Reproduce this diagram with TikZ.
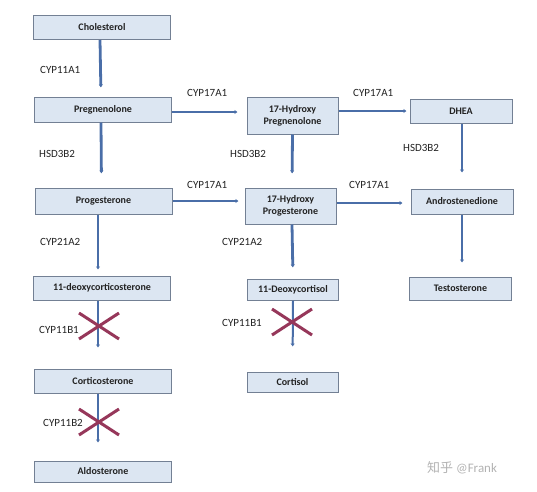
\documentclass[tikz,border=0pt]{standalone}
\usepackage{fontspec}
\setmainfont{Carlito}
\newfontfamily\cjkfont{Noto Sans CJK SC}
\usepackage{tikz}
\usetikzlibrary{arrows.meta,positioning}
\definecolor{boxfill}{RGB}{220,230,242}
\definecolor{boxline}{RGB}{115,128,148}
\definecolor{flowblue}{RGB}{74,110,168}
\definecolor{crossred}{RGB}{150,55,90}
\definecolor{inktext}{RGB}{34,34,34}

\begin{document}
\begin{tikzpicture}[x=1pt,y=-1pt,
    mol/.style={draw=boxline,fill=boxfill,line width=1pt,minimum height=24pt,inner sep=0pt,
      align=center,text=inktext,font=\bfseries\fontsize{10}{12}\selectfont},
    wide/.style={mol,minimum width=137pt},
    mid/.style={mol,minimum width=91pt},
    side/.style={mol,minimum width=102pt},
    flow/.style={draw=flowblue,line width=2.8pt,-{Latex[length=3pt,width=4.5pt]},shorten >=9pt},
    thin/.style={flow,line width=2pt},
    enz/.style={anchor=west,inner sep=0pt,text=inktext,font=\fontsize{11}{13}\selectfont},
    block/.style={draw=crossred,line width=3pt}]
    \useasboundingbox (0,0) rectangle (537,491);
    % first column
    \node[wide] (chol) at (102,27.5) {Cholesterol};
    \node[wide,minimum height=25pt] (preg) at (103,109.5) {Pregnenolone};
    \node[wide,minimum height=26pt] (prog) at (103.5,201) {Progesterone};
    \node[wide] (doc) at (102,288) {11-deoxycorticosterone};
    \node[wide] (cortico) at (103,381) {Corticosterone};
    \node[wide,minimum height=21pt] (aldo) at (103,471.5) {Aldosterone};
    % second column
    \node[mid,minimum height=37pt] (ohpreg) at (292.5,115.5) {17-Hydroxy\\Pregnenolone};
    \node[mid,minimum height=36pt] (ohprog) at (290.5,206) {17-Hydroxy\\Progesterone};
    \node[mid,minimum height=21pt] (dcort) at (293,289.5) {11-Deoxycortisol};
    \node[mid,minimum height=20pt] (cortisol) at (292.5,382) {Cortisol};
    % third column
    \node[side] (dhea) at (461,111) {DHEA};
    \node[side,minimum height=25pt] (andro) at (462,201.5) {Androstenedione};
    \node[side,minimum height=23pt] (testo) at (460.5,288.5) {Testosterone};

    % vertical steps
    \draw[flow] ([xshift=-2pt]chol.south) -- ([xshift=-2pt]preg.north);
    \draw[flow,shorten >=14pt] ([xshift=-2pt]preg.south) -- ([xshift=-2pt]prog.north);
    \draw[flow,shorten >=6pt] ([xshift=-5.5pt]prog.south) -- ([xshift=-4pt]doc.north);
    \draw[thin,shorten >=21pt] ([xshift=-4pt]doc.south) -- ([xshift=-5pt]cortico.north);
    \draw[thin,shorten >=18pt] ([xshift=-5pt]cortico.south) -- ([xshift=-5pt]aldo.north);
    \draw[flow,shorten >=14pt] (ohpreg.south) -- ([xshift=1.5pt]ohprog.north);
    \draw[flow,shorten >=11pt] ([xshift=1.5pt]ohprog.south) -- (dcort.north);
    \draw[thin,shorten >=25pt] (dcort.south) -- (cortisol.north);
    \draw[flow,shorten >=16pt] ([xshift=1pt]dhea.south) -- (andro.north);
    \draw[flow,shorten >=14pt] (andro.south) -- ([xshift=1.5pt]testo.north);

    % horizontal steps
    \draw[flow] ([yshift=-2.5pt]preg.east) -- ([yshift=-2.5pt]preg.east -| ohpreg.west);
    \draw[flow,shorten >=3pt] (ohpreg.east |- dhea.west) -- (dhea.west);
    \draw[flow,shorten >=6pt] (prog.east) -- (prog.east -| ohprog.west);
    \draw[flow,shorten >=8pt] ([yshift=-1.5pt]ohprog.east |- andro.west) -- ([yshift=-1.5pt]andro.west);

    % enzymes
    \node[enz] (e1) at (40,70) {CYP11A1};
    \node[enz] (e2) at (187,93) {CYP17A1};
    \node[enz] (e3) at (353,93) {CYP17A1};
    \node[enz] (e4) at (39,154) {HSD3B2};
    \node[enz] (e5) at (230,154) {HSD3B2};
    \node[enz] (e6) at (403,148) {HSD3B2};
    \node[enz] (e7) at (187,185) {CYP17A1};
    \node[enz] (e8) at (349,185) {CYP17A1};
    \node[enz] (e9) at (40,242) {CYP21A2};
    \node[enz] (e10) at (222,242) {CYP21A2};
    \node[enz] (e11) at (39,330) {CYP11B1};
    \node[enz] (e12) at (222,323) {CYP11B1};
    \node[enz] (e13) at (43,423) {CYP11B2};

    % blocked steps
    \coordinate (xa) at (99,326);
    \coordinate (xb) at (99,422);
    \coordinate (xc) at (292,322);
    \foreach \c in {xa,xb,xc} {
        \draw[block] ([shift={(-20,-13)}]\c) -- ([shift={(20,13)}]\c);
        \draw[block] ([shift={(-20,13)}]\c) -- ([shift={(20,-13)}]\c);
    }

    \node[anchor=west,inner sep=0pt,text=black!30,font=\fontsize{13}{15}\selectfont] (mark) at (427,468) {{\cjkfont 知乎} @Frank};
\end{tikzpicture}
\end{document}
